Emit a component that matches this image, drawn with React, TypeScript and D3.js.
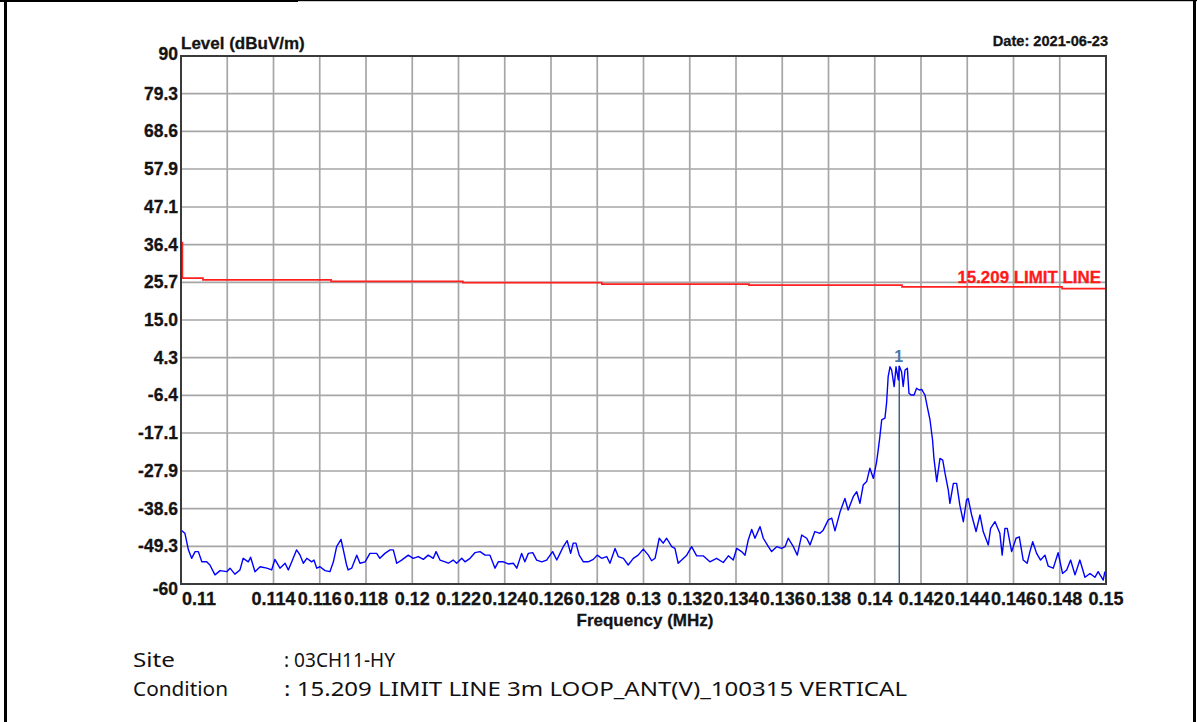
import React from 'react';
import * as d3 from 'd3';

const WIDTH = 1197;
const HEIGHT = 722;
const PLOT = { TOP: 56, BOTTOM: 584, LEFT: 181, RIGHT: 1106 };

// axis ticks
const yTickValues = [90, 79.3, 68.6, 57.9, 47.1, 36.4, 25.7, 15.0, 4.3, -6.4, -17.1, -27.9, -38.6, -49.3, -60];
const yTickLabels = ['90', '79.3', '68.6', '57.9', '47.1', '36.4', '25.7', '15.0', '4.3', '-6.4', '-17.1', '-27.9', '-38.6', '-49.3', '-60'];
const xTickValues = [0.11, 0.112, 0.114, 0.116, 0.118, 0.12, 0.122, 0.124, 0.126, 0.128, 0.13, 0.132, 0.134, 0.136, 0.138, 0.14, 0.142, 0.144, 0.146, 0.148, 0.15];
const xTickLabels = ['0.11', '', '0.114', '0.116', '0.118', '0.12', '0.122', '0.124', '0.126', '0.128', '0.13', '0.132', '0.134', '0.136', '0.138', '0.14', '0.142', '0.144', '0.146', '0.148', '0.15'];

// 15.209 limit line (stepped)
const limitFreq = [0.11006, 0.11006, 0.11095, 0.11649, 0.12219, 0.1282, 0.13456, 0.14118, 0.1481, 0.15];
const limitLevel = [37.2, 26.9, 26.4, 26.0, 25.6, 25.2, 24.9, 24.4, 23.9, 23.9];

// measured trace
const traceFreq = [
  0.11, 0.11017, 0.11032, 0.11046, 0.11061, 0.11075, 0.1109, 0.11111, 0.11125, 0.11147,
  0.11169, 0.11198, 0.11212, 0.11233, 0.11255, 0.11269, 0.11291, 0.11301, 0.1132, 0.11342,
  0.11371, 0.11392, 0.11406, 0.11428, 0.1145, 0.11464, 0.11479, 0.115, 0.11515, 0.11529,
  0.11544, 0.11565, 0.11575, 0.11587, 0.11601, 0.11623, 0.11644, 0.11659, 0.11673, 0.11692,
  0.11702, 0.11716, 0.11723, 0.11738, 0.1176, 0.11774, 0.11796, 0.11817, 0.11846, 0.1186,
  0.11882, 0.11904, 0.11918, 0.11933, 0.11954, 0.11983, 0.12004, 0.12026, 0.12048, 0.12069,
  0.12091, 0.12103, 0.1212, 0.12142, 0.12156, 0.12177, 0.12192, 0.12214, 0.12228, 0.1225,
  0.12271, 0.12293, 0.12315, 0.12336, 0.12358, 0.12372, 0.12394, 0.12415, 0.12437, 0.12452,
  0.12473, 0.12487, 0.12502, 0.12521, 0.12538, 0.1256, 0.12581, 0.12607, 0.12625, 0.12639,
  0.12653, 0.1267, 0.12685, 0.12696, 0.12708, 0.12722, 0.1274, 0.12761, 0.12783, 0.128,
  0.12819, 0.12841, 0.12855, 0.12877, 0.12891, 0.12913, 0.12934, 0.12956, 0.12977, 0.12999,
  0.13021, 0.13035, 0.1305, 0.13068, 0.13085, 0.131, 0.13122, 0.13136, 0.1315, 0.13165,
  0.13187, 0.13208, 0.1323, 0.13258, 0.13287, 0.13316, 0.13345, 0.13367, 0.13388, 0.13403,
  0.13424, 0.13439, 0.13453, 0.13468, 0.13482, 0.13504, 0.13518, 0.1354, 0.13554, 0.13576,
  0.13597, 0.13612, 0.13626, 0.13648, 0.13665, 0.13684, 0.13706, 0.1372, 0.13741, 0.13763,
  0.13777, 0.13799, 0.13814, 0.13828, 0.1385, 0.13871, 0.13885, 0.13907, 0.13922, 0.13936,
  0.1395, 0.13965, 0.13979, 0.13994, 0.14008, 0.14015, 0.14022, 0.1403, 0.14044, 0.14051,
  0.14058, 0.14066, 0.14073, 0.14084, 0.14092, 0.14102, 0.14106, 0.14116, 0.14123, 0.14131,
  0.14141, 0.14148, 0.14157, 0.1417, 0.14181, 0.14192, 0.14203, 0.14217, 0.14227, 0.14239,
  0.1425, 0.14256, 0.14268, 0.14282, 0.14294, 0.14304, 0.14318, 0.14325, 0.1434, 0.14354,
  0.14368, 0.14383, 0.14397, 0.14404, 0.14419, 0.14438, 0.14455, 0.14469, 0.14491, 0.14501,
  0.1452, 0.14541, 0.14551, 0.14563, 0.14573, 0.14592, 0.14611, 0.14625, 0.14642, 0.14659,
  0.14671, 0.14683, 0.147, 0.14717, 0.14736, 0.1475, 0.14772, 0.14793, 0.14812, 0.1483,
  0.14847, 0.14866, 0.14887, 0.14909, 0.14931, 0.14952, 0.14966, 0.14988, 0.14995,
];
const traceLevel = [
  -44.7, -45.6, -50.3, -52.7, -50.8, -50.8, -53.7, -53.7, -54.6, -57.4,
  -56.2, -56.5, -55.5, -57.2, -56.0, -52.7, -53.7, -52.4, -56.5, -55.1,
  -55.5, -56.0, -53.0, -55.5, -54.1, -56.0, -53.7, -50.3, -51.8, -54.1,
  -52.7, -53.7, -53.2, -55.5, -55.1, -56.2, -56.5, -53.7, -49.4, -47.3,
  -50.3, -54.6, -56.0, -55.5, -51.8, -54.1, -53.7, -51.3, -51.3, -52.7,
  -51.3, -50.3, -50.3, -54.1, -53.2, -51.8, -52.7, -52.2, -53.0, -51.8,
  -52.7, -50.8, -53.2, -53.7, -54.1, -53.2, -54.1, -52.7, -53.7, -52.7,
  -51.1, -50.8, -51.8, -51.8, -55.5, -53.7, -53.7, -54.3, -54.1, -55.5,
  -51.3, -53.7, -51.3, -51.1, -53.2, -53.7, -53.2, -50.8, -53.2, -51.3,
  -49.4, -47.7, -51.3, -48.4, -48.4, -51.8, -53.7, -53.7, -53.0, -51.8,
  -52.7, -52.2, -54.1, -49.9, -52.2, -52.7, -54.6, -52.7, -51.8, -50.1,
  -51.8, -53.4, -52.7, -47.0, -48.4, -47.0, -49.4, -49.9, -54.1, -53.2,
  -51.8, -49.4, -52.0, -52.0, -53.7, -52.7, -53.9, -52.0, -53.2, -49.9,
  -50.8, -51.8, -47.5, -44.5, -47.0, -43.7, -47.0, -49.4, -50.8, -49.4,
  -49.9, -49.4, -47.0, -49.4, -51.8, -46.1, -47.0, -48.9, -45.1, -45.6,
  -44.7, -41.8, -41.3, -44.9, -39.5, -35.7, -39.0, -35.2, -33.8, -37.1,
  -31.9, -30.9, -27.1, -30.0, -25.3, -21.9, -18.2, -13.4, -12.9, -8.7,
  -1.1, 1.7, 0.8, -3.9, 1.7, -2.0, 1.9, 0.3, -3.9, 0.8,
  1.3, -5.8, -6.3, -6.3, -4.4, -4.9, -4.7, -6.3, -9.6, -13.4,
  -19.1, -24.3, -30.9, -24.3, -24.8, -28.6, -33.3, -37.1, -31.4, -31.4,
  -37.6, -42.3, -36.1, -35.7, -40.4, -45.1, -40.4, -45.1, -48.9, -44.2,
  -42.3, -45.6, -51.8, -44.2, -44.2, -50.8, -47.0, -46.6, -53.2, -54.1,
  -50.8, -48.0, -51.3, -53.2, -51.8, -54.9, -55.5, -51.1, -57.0, -56.0,
  -53.2, -57.4, -53.2, -58.1, -57.0, -58.1, -56.5, -58.9, -56.5,
];

// marker 1
const markerFreq = 0.14106;
const markerLevel = 1.9;

const siteText = ': 03CH11-HY';
const conditionText = ': 15.209 LIMIT LINE 3m LOOP_ANT(V)_100315 VERTICAL';

const AXIS_FONT = "'Liberation Sans', Arial, sans-serif";
const NOTE_FONT = "'Comic Sans MS', 'Noto Sans', sans-serif";
const INK = '#141414';

export default function App(): JSX.Element {
  const xScale = d3.scaleLinear().domain([0.11, 0.15]).range([PLOT.LEFT, PLOT.RIGHT]);
  const yScale = d3.scaleLinear().domain([-60, 90]).range([PLOT.BOTTOM, PLOT.TOP]);

  const traceLine = d3
    .line<number>()
    .x((_, i) => xScale(traceFreq[i]))
    .y((d) => yScale(d));

  const limitLine = d3
    .line<number>()
    .x((_, i) => xScale(limitFreq[i]))
    .y((d) => yScale(d))
    .curve(d3.curveStepAfter);

  const innerX = xTickValues.slice(1, -1);
  const innerY = yTickValues.slice(1, -1);

  return (
    <svg
      width={WIDTH}
      height={HEIGHT}
      style={{ position: 'absolute', left: 0, top: 0, background: '#fff' }}
    >
      <rect x={0} y={0} width={WIDTH} height={HEIGHT} fill="#fff" />
      {/* outer frame */}
      <rect x={0} y={0} width={298} height={2} fill="#000" />
      <rect x={298} y={0} width={WIDTH - 298} height={1.2} fill="#000" />
      <rect x={4} y={0} width={3} height={HEIGHT} fill="#000" />
      <rect x={1193} y={0} width={3} height={HEIGHT} fill="#000" />

      {/* grid */}
      <g stroke="#a6a6a6" strokeWidth={1.7}>
        {innerX.map((v) => (
          <line key={`gx${v}`} x1={xScale(v)} x2={xScale(v)} y1={PLOT.TOP} y2={PLOT.BOTTOM} />
        ))}
        {innerY.map((v) => (
          <line key={`gy${v}`} x1={PLOT.LEFT} x2={PLOT.RIGHT} y1={yScale(v)} y2={yScale(v)} />
        ))}
      </g>

      {/* limit line */}
      <path d={limitLine(limitLevel) || ''} fill="none" stroke="#ff2020" strokeWidth={1.7} />
      <text
        x={1101}
        y={283}
        textAnchor="end"
        fontFamily={AXIS_FONT}
        fontWeight="bold"
        fontSize={16.9}
        fill="#ff1a1a"
        stroke="#ff1a1a"
        strokeWidth={0.3}
      >
        15.209 LIMIT LINE
      </text>

      {/* marker */}
      <line
        x1={xScale(markerFreq)}
        x2={xScale(markerFreq)}
        y1={yScale(markerLevel)}
        y2={PLOT.BOTTOM}
        stroke="#335c80"
        strokeWidth={1.4}
      />
      <text
        x={xScale(markerFreq) - 0.5}
        y={362}
        textAnchor="middle"
        fontFamily={AXIS_FONT}
        fontWeight="bold"
        fontSize={16}
        fill="#4a78a8"
      >
        1
      </text>

      {/* trace */}
      <path
        d={traceLine(traceLevel) || ''}
        fill="none"
        stroke="#0000ff"
        strokeWidth={1.4}
        strokeLinejoin="round"
      />

      {/* plot frame */}
      <rect
        x={PLOT.LEFT}
        y={PLOT.TOP}
        width={PLOT.RIGHT - PLOT.LEFT}
        height={PLOT.BOTTOM - PLOT.TOP}
        fill="none"
        stroke="#3a3a3a"
        strokeWidth={2}
      />

      {/* y tick labels */}
      <g
        fontFamily={AXIS_FONT}
        fontWeight="bold"
        fontSize={17.5}
        fill={INK}
        stroke={INK}
        strokeWidth={0.3}
        textAnchor="end"
      >
        {yTickValues.map((v, i) => {
          let dy = 6;
          if (i === 0) dy = 4;
          if (i === yTickValues.length - 1) dy = 11;
          return (
            <text key={`yl${i}`} x={178} y={yScale(v) + dy}>
              {yTickLabels[i]}
            </text>
          );
        })}
      </g>

      {/* x tick labels */}
      <g
        fontFamily={AXIS_FONT}
        fontWeight="bold"
        fontSize={18}
        fill={INK}
        stroke={INK}
        strokeWidth={0.3}
      >
        {xTickValues.map((v, i) =>
          xTickLabels[i] ? (
            <text
              key={`xl${i}`}
              x={i === 0 ? xScale(v) + 1 : xScale(v)}
              y={605}
              textAnchor={i === 0 ? 'start' : 'middle'}
            >
              {xTickLabels[i]}
            </text>
          ) : null,
        )}
      </g>

      {/* titles */}
      <g fontFamily={AXIS_FONT} fontWeight="bold" fill={INK} stroke={INK} strokeWidth={0.3}>
        <text x={181} y={49} fontSize={17}>
          Level (dBuV/m)
        </text>
        <text x={1108} y={46} textAnchor="end" fontSize={14.6}>
          Date: 2021-06-23
        </text>
        <text x={645} y={626} textAnchor="middle" fontSize={17}>
          Frequency (MHz)
        </text>
      </g>

      {/* notes */}
      <g fontFamily={NOTE_FONT} fontSize={19} fill="#111">
        <text x={133} y={667} textLength={42} lengthAdjust="spacingAndGlyphs">
          Site
        </text>
        <text x={284} y={667} textLength={111} lengthAdjust="spacingAndGlyphs">
          {siteText}
        </text>
        <text x={133} y={696} textLength={95} lengthAdjust="spacingAndGlyphs">
          Condition
        </text>
        <text x={284} y={696} textLength={623} lengthAdjust="spacingAndGlyphs">
          {conditionText}
        </text>
      </g>
    </svg>
  );
}
